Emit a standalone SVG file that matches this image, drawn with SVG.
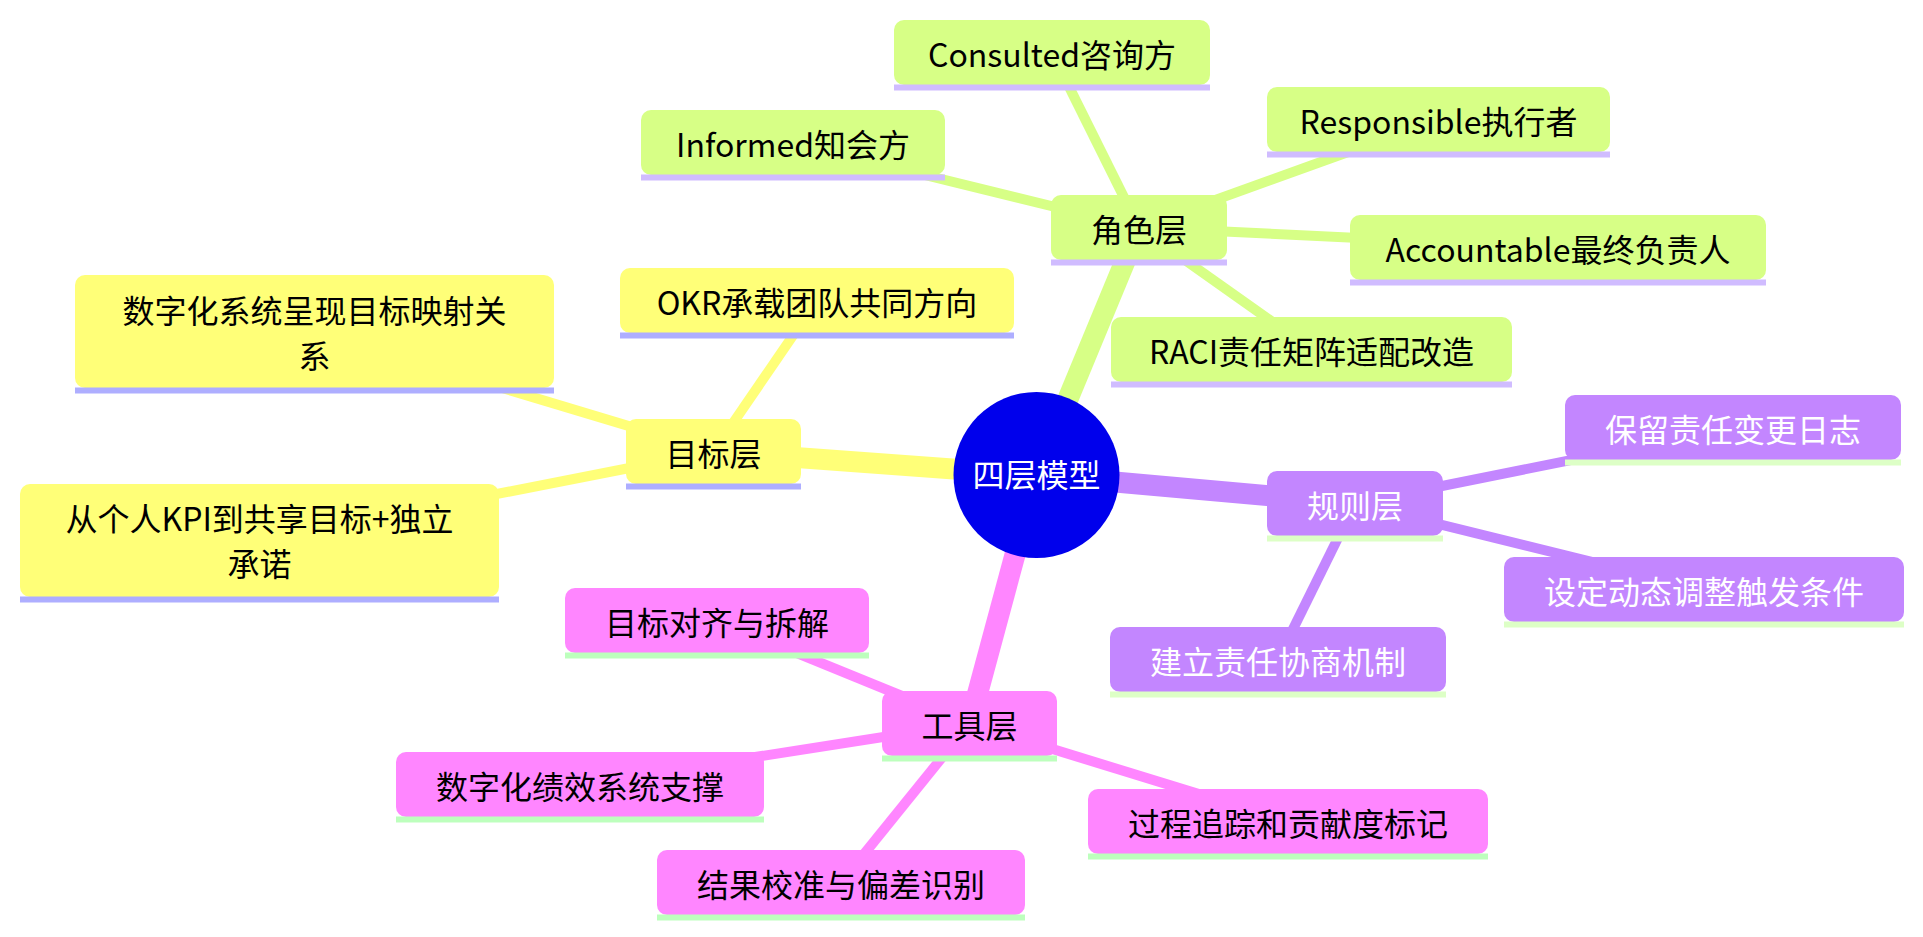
<svg xmlns="http://www.w3.org/2000/svg" width="1923" height="937" viewBox="0 0 1923 937">
<style>
text{font-family:"Noto Sans CJK SC","Noto Sans",sans-serif;font-size:32px;text-anchor:middle;fill:#000}
.e0{stroke-width:21;fill:none}
.e1{stroke-width:10;fill:none}
.s0{stroke:#ffff78}.s1{stroke:#d7ff86}.s2{stroke:#c386ff}.s3{stroke:#ff86ff}
.n0 rect{fill:#ffff78}.n0 line{stroke:#aeaeff;stroke-width:6}
.n1 rect{fill:#d7ff86}.n1 line{stroke:#d0bcff;stroke-width:6}
.n2 rect{fill:#c386ff}.n2 line{stroke:#ddffc6;stroke-width:6}.n2 text{fill:#fff}
.n3 rect{fill:#ff86ff}.n3 line{stroke:#bdffbd;stroke-width:6}
</style>
<rect width="1923" height="937" fill="#fff"/>
<g id="connectors">
<line class="e0 s1" x1="1036.5" y1="475" x2="1139" y2="227.5"/>
<line class="e0 s0" x1="1036.5" y1="475" x2="713.5" y2="451.5"/>
<line class="e0 s2" x1="1036.5" y1="475" x2="1355" y2="503.5"/>
<line class="e0 s3" x1="1036.5" y1="475" x2="969.5" y2="723.5"/>
<line class="e1 s1" x1="1139" y1="227.5" x2="1052" y2="52.5"/>
<line class="e1 s1" x1="1139" y1="227.5" x2="1438.5" y2="119.5"/>
<line class="e1 s1" x1="1139" y1="227.5" x2="792.5" y2="142.5"/>
<line class="e1 s1" x1="1139" y1="227.5" x2="1558" y2="247.5"/>
<line class="e1 s1" x1="1139" y1="227.5" x2="1311.5" y2="349.5"/>
<line class="e1 s0" x1="713.5" y1="451.5" x2="817" y2="300.5"/>
<line class="e1 s0" x1="713.5" y1="451.5" x2="314.5" y2="331.5"/>
<line class="e1 s0" x1="713.5" y1="451.5" x2="259.5" y2="540.5"/>
<line class="e1 s2" x1="1355" y1="503.5" x2="1733" y2="427.5"/>
<line class="e1 s2" x1="1355" y1="503.5" x2="1704" y2="589.5"/>
<line class="e1 s2" x1="1355" y1="503.5" x2="1278" y2="659.5"/>
<line class="e1 s3" x1="969.5" y1="723.5" x2="717" y2="620.5"/>
<line class="e1 s3" x1="969.5" y1="723.5" x2="580" y2="784.5"/>
<line class="e1 s3" x1="969.5" y1="723.5" x2="1288" y2="821.5"/>
<line class="e1 s3" x1="969.5" y1="723.5" x2="841" y2="882.5"/>
</g>
<g id="root">
<circle cx="1036.5" cy="475" r="83" fill="#0000ec"/>
<text x="1036.5" y="487" style="fill:#fff">四层模型</text>
</g>
<g id="juese" class="n1"><rect x="1051" y="195" width="176" height="65" rx="10"/><line x1="1051" y1="262.5" x2="1227" y2="262.5"/><text x="1139" y="241.5">角色层</text></g>
<g id="consulted" class="n1"><rect x="894" y="20" width="316" height="65" rx="10"/><line x1="894" y1="87.5" x2="1210" y2="87.5"/><text x="1052" y="66.5">Consulted咨询方</text></g>
<g id="responsible" class="n1"><rect x="1267" y="87" width="343" height="65" rx="10"/><line x1="1267" y1="154.5" x2="1610" y2="154.5"/><text x="1438.5" y="133.5">Responsible执行者</text></g>
<g id="informed" class="n1"><rect x="641" y="110" width="304" height="65" rx="10"/><line x1="641" y1="177.5" x2="945" y2="177.5"/><text x="793" y="156.5">Informed知会方</text></g>
<g id="accountable" class="n1"><rect x="1350" y="215" width="416" height="65" rx="10"/><line x1="1350" y1="282.5" x2="1766" y2="282.5"/><text x="1558" y="261.5">Accountable最终负责人</text></g>
<g id="raci" class="n1"><rect x="1111" y="317" width="401" height="65" rx="10"/><line x1="1111" y1="384.5" x2="1512" y2="384.5"/><text x="1311.5" y="363.5">RACI责任矩阵适配改造</text></g>
<g id="mubiao" class="n0"><rect x="626" y="419" width="175" height="65" rx="10"/><line x1="626" y1="486.5" x2="801" y2="486.5"/><text x="713.5" y="465.5">目标层</text></g>
<g id="okr" class="n0"><rect x="620" y="268" width="394" height="65" rx="10"/><line x1="620" y1="335.5" x2="1014" y2="335.5"/><text x="817" y="314.5">OKR承载团队共同方向</text></g>
<g id="shuzihua" class="n0"><rect x="75" y="275" width="479" height="113" rx="10"/><line x1="75" y1="390.5" x2="554" y2="390.5"/><text x="314.5" y="323">数字化系统呈现目标映射关</text><text x="314.5" y="368">系</text></g>
<g id="geren" class="n0"><rect x="20" y="484" width="479" height="113" rx="10"/><line x1="20" y1="599.5" x2="499" y2="599.5"/><text x="259.5" y="531">从个人KPI到共享目标+独立</text><text x="259.5" y="576">承诺</text></g>
<g id="guize" class="n2"><rect x="1267" y="471" width="176" height="65" rx="10"/><line x1="1267" y1="538.5" x2="1443" y2="538.5"/><text x="1355" y="517.5">规则层</text></g>
<g id="baoliu" class="n2"><rect x="1565" y="395" width="336" height="65" rx="10"/><line x1="1565" y1="462.5" x2="1901" y2="462.5"/><text x="1733" y="441.5">保留责任变更日志</text></g>
<g id="sheding" class="n2"><rect x="1504" y="557" width="400" height="65" rx="10"/><line x1="1504" y1="624.5" x2="1904" y2="624.5"/><text x="1704" y="603.5">设定动态调整触发条件</text></g>
<g id="jianli" class="n2"><rect x="1110" y="627" width="336" height="65" rx="10"/><line x1="1110" y1="694.5" x2="1446" y2="694.5"/><text x="1278" y="673.5">建立责任协商机制</text></g>
<g id="gongju" class="n3"><rect x="882" y="691" width="175" height="65" rx="10"/><line x1="882" y1="758.5" x2="1057" y2="758.5"/><text x="969.5" y="737.5">工具层</text></g>
<g id="duiqi" class="n3"><rect x="565" y="588" width="304" height="65" rx="10"/><line x1="565" y1="655.5" x2="869" y2="655.5"/><text x="717" y="634.5">目标对齐与拆解</text></g>
<g id="jixiao" class="n3"><rect x="396" y="752" width="368" height="65" rx="10"/><line x1="396" y1="819.5" x2="764" y2="819.5"/><text x="580" y="798.5">数字化绩效系统支撑</text></g>
<g id="guocheng" class="n3"><rect x="1088" y="789" width="400" height="65" rx="10"/><line x1="1088" y1="856.5" x2="1488" y2="856.5"/><text x="1288" y="835.5">过程追踪和贡献度标记</text></g>
<g id="jieguo" class="n3"><rect x="657" y="850" width="368" height="65" rx="10"/><line x1="657" y1="917.5" x2="1025" y2="917.5"/><text x="841" y="896.5">结果校准与偏差识别</text></g>
</svg>
